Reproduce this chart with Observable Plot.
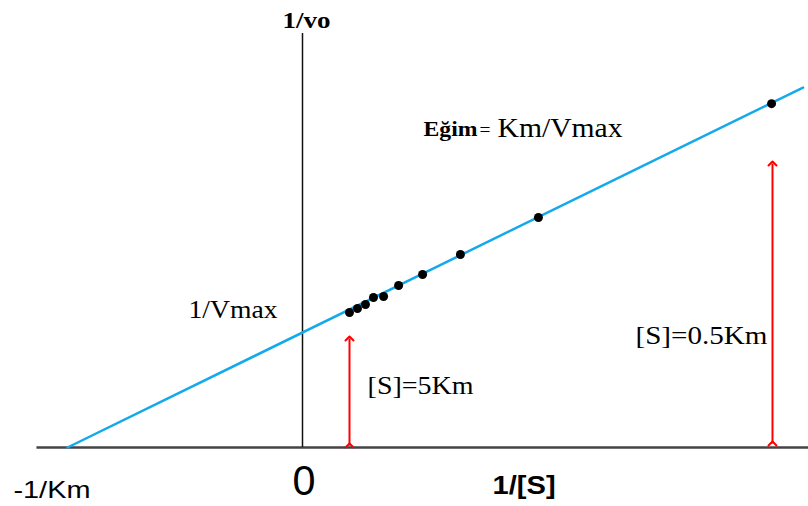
<!DOCTYPE html>
<html><head><meta charset="utf-8">
<script src="https://cdn.jsdelivr.net/npm/d3@7"></script>
<script src="https://cdn.jsdelivr.net/npm/@observablehq/plot@0.6"></script>
<style>html,body{margin:0;padding:0;background:#fff}</style>
</head><body><div id="chart"></div>
<script>
// Lineweaver–Burk data (units: 1/Km on x, 1/Vmax on y)
const Km = 1, Vmax = 1;
const invS = [0.200, 0.234, 0.268, 0.302, 0.345, 0.409, 0.511, 0.672, 1.004, 1.996];
const invV = [1.174, 1.209, 1.243, 1.304, 1.313, 1.409, 1.504, 1.678, 2.000, 2.990];
const lineInvS = [-1 / Km, 2.13];
const arrowInvS = [1 / (5 * Km), 1 / (0.5 * Km)];
const arrowTop = [0.948, 2.47];
const arrowBottom = [0.017, 0.035];
const xAxisExtent = [-1.13, 2.16];
const yAxisExtent = [0, 3.6];

const labelText = ["1/vo", "Eğim", "=", "Km/Vmax", "1/Vmax", "[S]=5Km", "[S]=0.5Km", "-1/Km", "0", "1/[S]"];
const labelX = [-0.085, 0.515, 0.753, 0.830, -0.485, 0.277, 1.417, -1.230, -0.043, 0.809];
const labelY = [3.652, 2.713, 2.713, 2.696, 1.130, 0.461, 0.904, -0.435, -0.417, -0.400];
const labelFont = ["Liberation Serif", "Liberation Serif", "Liberation Serif", "Liberation Serif", "Liberation Serif", "Liberation Serif", "Liberation Serif", "Liberation Sans", "Liberation Sans", "Liberation Sans"];
const labelSize = [24, 21, 18, 27, 26, 26, 26, 24, 42, 26];
const labelWeight = ["bold", "bold", "normal", "normal", "normal", "normal", "normal", "normal", "normal", "bold"];
const labelWidth = [48, 54, 11, 125, 89, 106, 132, 77, 23, 63];

const points = invS.map((x, i) => ({x, y: invV[i]}));
const linePts = lineInvS.map(x => ({x, y: (Km / Vmax) * x + 1 / Vmax}));
const arrows = arrowInvS.map((x, i) => ({x, y1: arrowBottom[i], y2: arrowTop[i]}));
const labels = labelText.map((t, i) => ({text: t, x: labelX[i], y: labelY[i], font: labelFont[i], size: labelSize[i], weight: labelWeight[i], width: labelWidth[i]}));

const svg = Plot.plot({
  width: 808, height: 506,
  marginTop: 0, marginRight: 0, marginBottom: 0, marginLeft: 0,
  x: {domain: [-302 / 235, 506 / 235], axis: null},
  y: {domain: [-59 / 115, 447 / 115], axis: null},
  marks: [
    Plot.ruleY([0], {x1: xAxisExtent[0], x2: xAxisExtent[1], stroke: "#444", strokeWidth: 2.5}),
    Plot.ruleX([0], {y1: yAxisExtent[0], y2: yAxisExtent[1], stroke: "#111", strokeWidth: 1.5}),
    Plot.line(linePts, {x: "x", y: "y", stroke: "#14a9ec", strokeWidth: 2.5}),
    Plot.link(arrows, {x1: "x", x2: "x", y1: "y1", y2: "y2", stroke: "#ff0000", strokeWidth: 2, markerStart: "arrow", markerEnd: "arrow"}),
    Plot.dot(points, {x: "x", y: "y", r: 4.5, fill: "#000"}),
    ...labels.map(l => Plot.text([l], {x: "x", y: "y", text: "text", fontFamily: l.font, fontSize: l.size, fontWeight: l.weight, textAnchor: "start", lineAnchor: "bottom", fill: "#000"}))
  ]
});

d3.select(svg).selectAll("text").each(function () {
  const l = labels.find(d => d.text === this.textContent);
  if (l) { this.setAttribute("textLength", l.width); this.setAttribute("lengthAdjust", "spacingAndGlyphs"); }
});
document.getElementById("chart").appendChild(svg);
</script>
</body></html>
